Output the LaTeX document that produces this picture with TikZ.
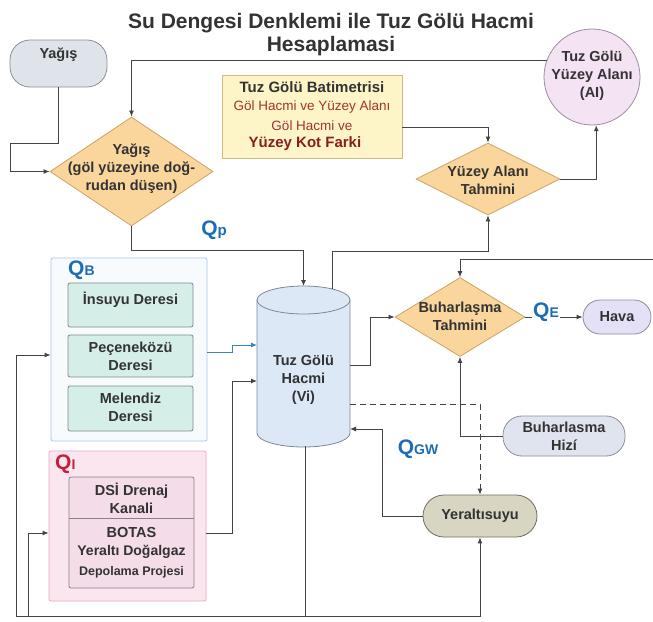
\documentclass[tikz,border=0pt]{standalone}
\usepackage{fontspec}
\setmainfont{Liberation Sans}
\usetikzlibrary{arrows.meta,shapes.geometric}
\definecolor{linec}{HTML}{444444}
\definecolor{txtc}{HTML}{333333}
\definecolor{grayf}{HTML}{DFE3EA}
\definecolor{grayb}{HTML}{8A8F99}
\definecolor{circf}{HTML}{F3E3F3}
\definecolor{circb}{HTML}{9A8FA0}
\definecolor{batf}{HTML}{FDF5C8}
\definecolor{batb}{HTML}{CDBB86}
\definecolor{diaf}{HTML}{FAD69C}
\definecolor{diab}{HTML}{C9A468}
\definecolor{cylf}{HTML}{DCE8F5}
\definecolor{cylb}{HTML}{7D8897}
\definecolor{qbb}{HTML}{A7C8E6}
\definecolor{qbf}{HTML}{F7FBFE}
\definecolor{tealf}{HTML}{D5EFE8}
\definecolor{tealb}{HTML}{7E8A88}
\definecolor{qif}{HTML}{FBE5EE}
\definecolor{qib}{HTML}{EAA7BF}
\definecolor{qiin}{HTML}{F5DCE9}
\definecolor{qiinb}{HTML}{8C8088}
\definecolor{havaf}{HTML}{E4E0F5}
\definecolor{hizf}{HTML}{DFE4EE}
\definecolor{yerf}{HTML}{D8D6C2}
\definecolor{yerb}{HTML}{6E6D62}
\definecolor{qblue}{HTML}{1D6DB5}
\definecolor{qred}{HTML}{C3203C}
\definecolor{redtxt}{HTML}{A33333}
\definecolor{darkred}{HTML}{8A1D1D}
\definecolor{blueline}{HTML}{3B82C4}
\begin{document}
\begin{tikzpicture}[x=1pt,y=-1pt,
  line/.style={draw=linec, line width=0.9pt},
  arr/.style={line, -{Latex[length=6pt,width=5pt]}},
  txt/.style={font=\fontsize{14.5}{18}\selectfont\bfseries, text=txtc, align=center, inner sep=0pt},
  shp/.style={line width=0.8pt, inner sep=0pt},
  dia/.style={diamond, draw=diab, fill=diaf, line width=0.8pt, inner sep=0pt},
  tealbox/.style={draw=tealb, fill=tealf, line width=0.8pt, rounded corners=2pt, inner sep=0pt},
  qlab/.style={font=\bfseries, inner sep=1pt}
]
\useasboundingbox (0,0) rectangle (653,621);
\fill[white] (0,0) rectangle (653,621);

% title
\node[font=\fontsize{21}{23}\selectfont\bfseries, text=txtc, align=center] (title) at (331,35) {Su Dengesi Denklemi ile Tuz Gölü Hacmi\\Hesaplamasi};

% Yagis pill
\node[shp, draw=grayb, fill=grayf, rounded corners=20pt, minimum width=97pt, minimum height=47pt] (yagis) at (58.5,63.5) {};
\node[txt] (yagisT) at (58.5,55) {Yağış};

% circle
\node[shp, circle, draw=circb, fill=circf, minimum size=96pt] (circ) at (592,77) {};
\node[txt] (circT) at (592,76) {Tuz Gölü\\Yüzey Alanı\\(AI)};

% bathymetry box
\node[shp, draw=batb, fill=batf, minimum width=180pt, minimum height=83pt] (bat) at (312,116.5) {};
\node[txt, font=\fontsize{15}{18}\selectfont\bfseries] (bat1) at (312,87) {Tuz Gölü Batimetrisi};
\node[txt, font=\fontsize{13.5}{16}\selectfont, text=redtxt] (bat2) at (312,107) {Göl Hacmi ve Yüzey Alanı};
\node[txt, font=\fontsize{13.5}{16}\selectfont, text=redtxt] (bat3) at (312,126) {Göl Hacmi ve};
\node[txt, font=\fontsize{15}{18}\selectfont\bfseries, text=darkred] (bat4) at (305,144) {Yüzey Kot Farki};

% diamonds
\node[dia, minimum width=163pt, minimum height=109pt] (d1) at (131.5,171.5) {};
\node[txt] (d1T) at (131.5,169) {Yağış\\(göl yüzeyine doğ-\\rudan düşen)};
\node[dia, minimum width=144pt, minimum height=72pt] (d2) at (488,179) {};
\node[txt] (d2T) at (488,180) {Yüzey Alanı\\Tahmini};
\node[dia, minimum width=130pt, minimum height=79pt] (d3) at (460,317) {};
\node[txt] (d3T) at (460,316) {Buharlaşma\\Tahmini};

% cylinder
\filldraw[draw=cylb, fill=cylf, line width=0.8pt] (257,300) -- (257,433) arc[start angle=180, end angle=360, x radius=46.5pt, y radius=14pt] -- (350,300);
\filldraw[draw=cylb, fill=cylf, line width=0.8pt] (303.5,300) ellipse [x radius=46.5pt, y radius=14pt];
\node[txt] (cylT) at (303.5,380) {Tuz Gölü\\Hacmi\\(Vi)};
\coordinate (cylTop) at (303.5,286);
\coordinate (cylTopR) at (332,289);
\coordinate (cylE) at (350,365);
\coordinate (cylD) at (350,404);
\coordinate (cylG) at (350,429);
\coordinate (cylB) at (305,446);
\coordinate (cylQB) at (257,345);
\coordinate (cylQI) at (257,381);

% QB group
\node[shp, draw=qbb, fill=qbf, rounded corners=2pt, minimum width=156pt, minimum height=183pt] (qb) at (129,349.5) {};
\node[qlab, text=qblue, anchor=west] (qbL) at (67,270) {\fontsize{21}{21}\selectfont Q\fontsize{14}{14}\selectfont B};
\node[tealbox, minimum width=125pt, minimum height=44pt] (ins) at (130.5,305) {};
\node[txt] (insT) at (130.5,300) {İnsuyu Deresi};
\node[tealbox, minimum width=125pt, minimum height=42pt] (pec) at (130.5,356) {};
\node[txt] (pecT) at (130.5,356) {Peçeneközü\\Deresi};
\node[tealbox, minimum width=125pt, minimum height=45pt] (mel) at (130.5,408.5) {};
\node[txt] (melT) at (130.5,407) {Melendiz\\Deresi};

% QI group
\node[shp, draw=qib, fill=qif, rounded corners=2pt, minimum width=157pt, minimum height=150pt] (qi) at (127.5,526) {};
\node[qlab, text=qred, anchor=west] (qiL) at (54,464) {\fontsize{21}{21}\selectfont Q\fontsize{14}{14}\selectfont I};
\node[shp, draw=qiinb, fill=qiin, rounded corners=2pt, minimum width=125pt, minimum height=111pt] (qiin) at (131.5,532.5) {};
\draw[qiinb, line width=0.8pt] (qiin.west |- 0,518) -- (qiin.east |- 0,518);
\node[txt] (dsiT) at (131.5,498.5) {DSİ Drenaj\\Kanali};
\node[txt] (botT) at (131.5,533) {BOTAS};
\node[txt, font=\fontsize{14}{16}\selectfont\bfseries] (yerT) at (131.5,552) {Yeraltı Doğalgaz};
\node[txt, font=\fontsize{12.5}{15}\selectfont\bfseries] (depT) at (131.5,572) {Depolama Projesi};

% right nodes
\node[shp, draw=grayb, fill=havaf, rounded corners=17pt, minimum width=68pt, minimum height=34pt] (hava) at (617,317) {};
\node[txt] (havaT) at (617,317) {Hava};
\node[shp, draw=grayb, fill=hizf, rounded corners=19pt, minimum width=122pt, minimum height=40pt] (hiz) at (564,436) {};
\node[txt] (hizT) at (564,436) {Buharlasma\\Hizí};
\node[shp, draw=yerb, fill=yerf, rounded corners=21pt, minimum width=114pt, minimum height=42pt] (yer) at (480,516) {};
\node[txt] (yerT2) at (480,516) {Yeraltısuyu};

\coordinate (rin) at (653,259);

% connectors
\draw[arr] (yagis.south) -- (yagis.south |- 0,143) -- (10,143) |- (d1.west);
\draw[arr] (circ.160) -| (d1.north);
\draw[arr] (bat.east |- 0,127) -| (d2.north);
\draw[arr] (d2.east) -| (circ.-85);
\draw[arr] (d1.south) |- (303.5,250) -- (cylTop);
\draw[arr] (cylTopR) |- (488,251) -- (d2.south);
\draw[arr] (rin) -| (d3.north);
\draw[arr] (cylE) -- (370,365) |- (d3.west);
\draw[arr] (d3.east) -- (hava.west);
\draw[arr] (hiz.west) -| (d3.south);
\draw[arr, dashed, dash pattern=on 6pt off 4pt] (cylD) -| (yer.north);
\draw[arr] (yer.west) -| (382,429) -- (cylG);
\draw[arr, draw=blueline] (qb.east |- 0,352) -- (232,352) |- (cylQB);
\draw[arr] (qi.east |- 0,533) -- (232,533) |- (cylQI);
\draw[line] (cylB) -- (305,616);
\draw[arr] (305,616) -| (yer.south);
\draw[arr] (305,616) -- (16,616) |- (qb.west |- 0,355);
\draw[arr] (28,616) |- (qi.west |- 0,533);

% labels
\node[qlab, text=qblue] (qp) at (214,230) {\fontsize{21}{21}\selectfont Q\fontsize{15}{15}\selectfont p};
\node[qlab, text=qblue, fill=white] (qe) at (546,312) {\fontsize{21}{21}\selectfont Q\fontsize{14}{14}\selectfont E};
\node[qlab, text=qblue] (qgw) at (418,449) {\fontsize{21}{21}\selectfont Q\fontsize{14}{14}\selectfont GW};
\end{tikzpicture}
\end{document}
